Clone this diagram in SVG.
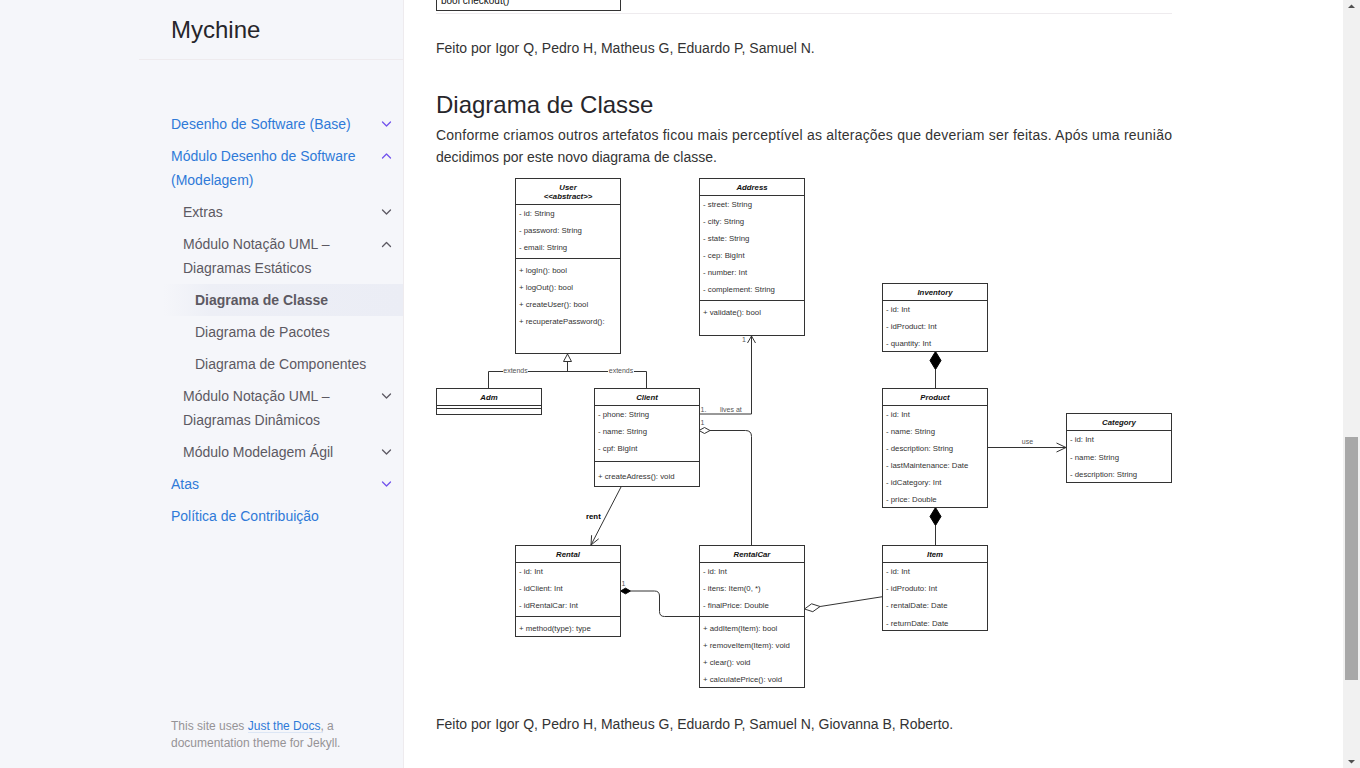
<svg xmlns="http://www.w3.org/2000/svg" width="1360" height="768" viewBox="0 0 1360 768">
<style>
.sans{font-family:"Liberation Sans",Arial,Helvetica,sans-serif}
.nav{font-size:14px;fill:#5c5962}
.navlink{font-size:14px;fill:#2f7ad8}
.chev{fill:none;stroke-width:1.3;stroke-linecap:round;stroke-linejoin:round}
.chp{stroke:#7253ed}
.chg{stroke:#5c5962}
.body{font-size:14px;fill:#333}
.box{fill:#fff;stroke:#333;stroke-width:1}
.sep{stroke:#333;stroke-width:1;fill:none}
.m{font-size:7.8px;fill:#333}
.h{font-size:7.8px;fill:#111;font-style:italic;font-weight:bold;text-anchor:middle}
.ln{fill:none;stroke:#333;stroke-width:1}
.lbl{font-size:7px;fill:#555}
</style>
<defs>
<linearGradient id="act" x1="0" y1="0" x2="1" y2="0">
<stop offset="0" stop-color="#ebedf5" stop-opacity="0"/>
<stop offset="0.2" stop-color="#ebedf5" stop-opacity="0.8"/>
<stop offset="1" stop-color="#ebedf5" stop-opacity="1"/>
</linearGradient>
</defs>

<!-- page background -->
<rect x="0" y="0" width="1360" height="768" fill="#ffffff"/>
<rect x="0" y="0" width="404" height="768" fill="#f5f6fa"/>
<line x1="403.5" y1="0" x2="403.5" y2="768" stroke="#eeebee"/>

<!-- sidebar -->
<g id="sidebar" class="sans">
<text x="171" y="38" font-size="24" fill="#27262b">Mychine</text>
<line x1="139" y1="59.5" x2="403" y2="59.5" stroke="#eeebee"/>
<rect x="163" y="284" width="240" height="32" fill="url(#act)"/>
<text class="navlink" x="171" y="129">Desenho de Software (Base)</text>
<text class="navlink" x="171" y="161">Módulo Desenho de Software</text>
<text class="navlink" x="171" y="185">(Modelagem)</text>
<text class="nav" x="183" y="217">Extras</text>
<text class="nav" x="183" y="249">Módulo Notação UML –</text>
<text class="nav" x="183" y="273">Diagramas Estáticos</text>
<text class="nav" x="195" y="305" font-weight="bold" fill="#46434b">Diagrama de Classe</text>
<text class="nav" x="195" y="337">Diagrama de Pacotes</text>
<text class="nav" x="195" y="369">Diagrama de Componentes</text>
<text class="nav" x="183" y="401">Módulo Notação UML –</text>
<text class="nav" x="183" y="425">Diagramas Dinâmicos</text>
<text class="nav" x="183" y="457">Módulo Modelagem Ágil</text>
<text class="navlink" x="171" y="489">Atas</text>
<text class="navlink" x="171" y="521">Política de Contribuição</text>
<polyline class="chev chp" points="382.5,122 386.5,126 390.5,122"/>
<polyline class="chev chp" points="382.5,158 386.5,154 390.5,158"/>
<polyline class="chev chg" points="382.5,210 386.5,214 390.5,210"/>
<polyline class="chev chg" points="382.5,246.5 386.5,242.5 390.5,246.5"/>
<polyline class="chev chg" points="382.5,394 386.5,398 390.5,394"/>
<polyline class="chev chg" points="382.5,450 386.5,454 390.5,450"/>
<polyline class="chev chp" points="382.5,482 386.5,486 390.5,482"/>
<text x="171" y="730" font-size="12" fill="#959396">This site uses <tspan fill="#2f7ad8">Just the Docs</tspan>, a</text>
<line x1="248" y1="732.5" x2="323" y2="732.5" stroke="#dce6f5"/>
<text x="171" y="747" font-size="12" fill="#959396">documentation theme for Jekyll.</text>
</g>

<!-- main content text -->
<g id="content" class="sans">
<rect x="436.5" y="-6" width="184" height="16.5" fill="#fff" stroke="#333"/>
<text x="441" y="4" font-size="10" fill="#111">bool checkout()</text>
<line x1="436" y1="13.5" x2="1172" y2="13.5" stroke="#eeebee"/>
<text class="body" x="436" y="53">Feito por Igor Q, Pedro H, Matheus G, Eduardo P, Samuel N.</text>
<text x="436" y="113" font-size="24" fill="#27262b">Diagrama de Classe</text>
<text class="body" x="436" y="140" textLength="736" lengthAdjust="spacing">Conforme criamos outros artefatos ficou mais perceptível as alterações que deveriam ser feitas. Após uma reunião</text>
<text class="body" x="436" y="162">decidimos por este novo diagrama de classe.</text>
<text class="body" x="436" y="729">Feito por Igor Q, Pedro H, Matheus G, Eduardo P, Samuel N, Giovanna B, Roberto.</text>
</g>

<!-- connectors -->
<g id="connectors" class="sans">
<!-- generalization -->
<polyline class="ln" points="567.5,361.5 567.5,371.5"/>
<polyline class="ln" points="488.5,388.5 488.5,371.5 646.5,371.5 646.5,388.5"/>
<polygon points="567.5,354 563.5,361.5 571.5,361.5" fill="#fff" stroke="#333"/>
<rect x="503" y="366.5" width="25" height="7" fill="#fff"/>
<text class="lbl" x="515.5" y="373" text-anchor="middle">extends</text>
<rect x="608" y="366.5" width="26" height="7" fill="#fff"/>
<text class="lbl" x="621" y="373" text-anchor="middle">extends</text>
<!-- lives at -->
<polyline class="ln" points="699,414 751.5,414 751.5,336"/>
<polyline class="ln" points="747.5,343 751.5,336 755.5,343"/>
<text class="lbl" x="700.5" y="411.5" fill="#7a3030">1.</text>
<text class="lbl" x="720" y="411.5">lives at</text>
<text class="lbl" x="742" y="342" fill="#3050a0">1</text>
<!-- client - rentalcar aggregation -->
<path class="ln" d="M710,430.5 H745.5 Q751.5,430.5 751.5,436.5 V545.5"/>
<polygon points="699,430.5 704.5,427.5 710,430.5 704.5,433.5" fill="#fff" stroke="#333"/>
<text class="lbl" x="700.5" y="424.5" fill="#3050a0">1</text>
<!-- rent -->
<line class="ln" x1="621" y1="487" x2="591" y2="545"/>
<polyline class="ln" points="598.7,538.8 591,545 591.6,535.2"/>
<text x="586" y="518.5" font-size="7.8" font-weight="bold" fill="#000">rent</text>
<!-- rental - rentalcar composition -->
<path class="ln" d="M630.5,591 H654.5 Q659.5,591 659.5,596 V611.5 Q659.5,616.5 664.5,616.5 H699.5"/>
<polygon points="620.5,591 625.5,588.2 630.5,591 625.5,593.8" fill="#000" stroke="#000"/>
<text class="lbl" x="621.5" y="586">1</text>
<!-- item - rentalcar aggregation -->
<line class="ln" x1="820.1" y1="606.5" x2="882.5" y2="596.7"/>
<polygon points="804.5,609 811.6,603.8 820.1,606.5 812.8,611.7" fill="#fff" stroke="#333"/>
<!-- inventory - product composition -->
<line class="ln" x1="935.5" y1="369.5" x2="935.5" y2="388.5"/>
<polygon points="935.5,351.5 941,360.5 935.5,369.5 930,360.5" fill="#000" stroke="#000"/>
<!-- product - item composition -->
<line class="ln" x1="935.5" y1="525.5" x2="935.5" y2="545.5"/>
<polygon points="935.5,507.5 941,516.5 935.5,525.5 930,516.5" fill="#000" stroke="#000"/>
<!-- use -->
<line class="ln" x1="988" y1="447.5" x2="1066" y2="447.5"/>
<polyline class="ln" points="1056.5,443 1066,447.5 1056.5,452"/>
<text class="lbl" x="1027.5" y="443.5" text-anchor="middle">use</text>
</g>

<!-- classes -->
<g id="User" class="sans">
<rect class="box" x="515.5" y="178.5" width="105" height="175"/>
<line class="sep" x1="515.5" y1="204.5" x2="620.5" y2="204.5"/>
<line class="sep" x1="515.5" y1="258.5" x2="620.5" y2="258.5"/>
<text class="h" x="568" y="189.5">User</text>
<text class="h" x="568" y="198.5">&lt;&lt;abstract&gt;&gt;</text>
<text class="m" x="519" y="216">- id: String</text>
<text class="m" x="519" y="233">- password: String</text>
<text class="m" x="519" y="250">- email: String</text>
<text class="m" x="519" y="273">+ logIn(): bool</text>
<text class="m" x="519" y="290">+ logOut(): bool</text>
<text class="m" x="519" y="307">+ createUser(): bool</text>
<text class="m" x="519" y="324">+ recuperatePassword():</text>
</g>

<g id="Address" class="sans">
<rect class="box" x="699.5" y="178.5" width="105" height="157"/>
<line class="sep" x1="699.5" y1="195.5" x2="804.5" y2="195.5"/>
<line class="sep" x1="699.5" y1="300.5" x2="804.5" y2="300.5"/>
<text class="h" x="752" y="189.5">Address</text>
<text class="m" x="703" y="207">- street: String</text>
<text class="m" x="703" y="224">- city: String</text>
<text class="m" x="703" y="241">- state: String</text>
<text class="m" x="703" y="258">- cep: BigInt</text>
<text class="m" x="703" y="275">- number: Int</text>
<text class="m" x="703" y="292">- complement: String</text>
<text class="m" x="703" y="315">+ validate(): bool</text>
</g>

<g id="Inventory" class="sans">
<rect class="box" x="882.5" y="283.5" width="105" height="68"/>
<line class="sep" x1="882.5" y1="300.5" x2="987.5" y2="300.5"/>
<text class="h" x="935" y="294.5">Inventory</text>
<text class="m" x="886" y="312">- id: Int</text>
<text class="m" x="886" y="329">- idProduct: Int</text>
<text class="m" x="886" y="346">- quantity: Int</text>
</g>

<g id="Product" class="sans">
<rect class="box" x="882.5" y="388.5" width="105" height="119"/>
<line class="sep" x1="882.5" y1="405.5" x2="987.5" y2="405.5"/>
<text class="h" x="935" y="399.5">Product</text>
<text class="m" x="886" y="417">- id: Int</text>
<text class="m" x="886" y="434">- name: String</text>
<text class="m" x="886" y="451">- description: String</text>
<text class="m" x="886" y="468">- lastMaintenance: Date</text>
<text class="m" x="886" y="485">- idCategory: Int</text>
<text class="m" x="886" y="502">- price: Double</text>
</g>

<g id="Category" class="sans">
<rect class="box" x="1066.5" y="413.5" width="105" height="69"/>
<line class="sep" x1="1066.5" y1="430.5" x2="1171.5" y2="430.5"/>
<text class="h" x="1119" y="424.5">Category</text>
<text class="m" x="1070" y="442">- id: Int</text>
<text class="m" x="1070" y="460">- name: String</text>
<text class="m" x="1070" y="477">- description: String</text>
</g>

<g id="Adm" class="sans">
<rect class="box" x="436.5" y="388.5" width="105" height="26"/>
<line class="sep" x1="436.5" y1="405.5" x2="541.5" y2="405.5"/>
<line class="sep" x1="436.5" y1="408.5" x2="541.5" y2="408.5"/>
<text class="h" x="489" y="399.5">Adm</text>
</g>

<g id="Client" class="sans">
<rect class="box" x="594.5" y="388.5" width="105" height="98"/>
<line class="sep" x1="594.5" y1="405.5" x2="699.5" y2="405.5"/>
<line class="sep" x1="594.5" y1="461.5" x2="699.5" y2="461.5"/>
<text class="h" x="647" y="399.5">Client</text>
<text class="m" x="598" y="417">- phone: String</text>
<text class="m" x="598" y="434">- name: String</text>
<text class="m" x="598" y="451">- cpf: BigInt</text>
<text class="m" x="598" y="479">+ createAdress(): void</text>
</g>

<g id="Rental" class="sans">
<rect class="box" x="515.5" y="545.5" width="105" height="91"/>
<line class="sep" x1="515.5" y1="562.5" x2="620.5" y2="562.5"/>
<line class="sep" x1="515.5" y1="616.5" x2="620.5" y2="616.5"/>
<text class="h" x="568" y="556.5">Rental</text>
<text class="m" x="519" y="574">- id: Int</text>
<text class="m" x="519" y="591">- idClient: Int</text>
<text class="m" x="519" y="608">- idRentalCar: Int</text>
<text class="m" x="519" y="631">+ method(type): type</text>
</g>

<g id="RentalCar" class="sans">
<rect class="box" x="699.5" y="545.5" width="105" height="142"/>
<line class="sep" x1="699.5" y1="562.5" x2="804.5" y2="562.5"/>
<line class="sep" x1="699.5" y1="616.5" x2="804.5" y2="616.5"/>
<text class="h" x="752" y="556.5">RentalCar</text>
<text class="m" x="703" y="574">- id: Int</text>
<text class="m" x="703" y="591">- itens: Item(0, *)</text>
<text class="m" x="703" y="608">- finalPrice: Double</text>
<text class="m" x="703" y="631">+ addItem(Item): bool</text>
<text class="m" x="703" y="648">+ removeItem(Item): void</text>
<text class="m" x="703" y="665">+ clear(): void</text>
<text class="m" x="703" y="682">+ calculatePrice(): void</text>
</g>

<g id="Item" class="sans">
<rect class="box" x="882.5" y="545.5" width="105" height="85"/>
<line class="sep" x1="882.5" y1="562.5" x2="987.5" y2="562.5"/>
<text class="h" x="935" y="556.5">Item</text>
<text class="m" x="886" y="574">- id: Int</text>
<text class="m" x="886" y="591">- idProduto: Int</text>
<text class="m" x="886" y="608">- rentalDate: Date</text>
<text class="m" x="886" y="625.5">- returnDate: Date</text>
</g>

<!-- scrollbar -->
<g id="scrollbar">
<rect x="1343" y="0" width="17" height="768" fill="#f1f1f1"/>
<rect x="1345" y="437" width="13" height="243" fill="#a8a8a8"/>
<polygon points="1348,8 1355,8 1351.5,4.5" fill="#505050"/>
<polygon points="1348,760 1355,760 1351.5,763.5" fill="#505050"/>
</g>
</svg>
